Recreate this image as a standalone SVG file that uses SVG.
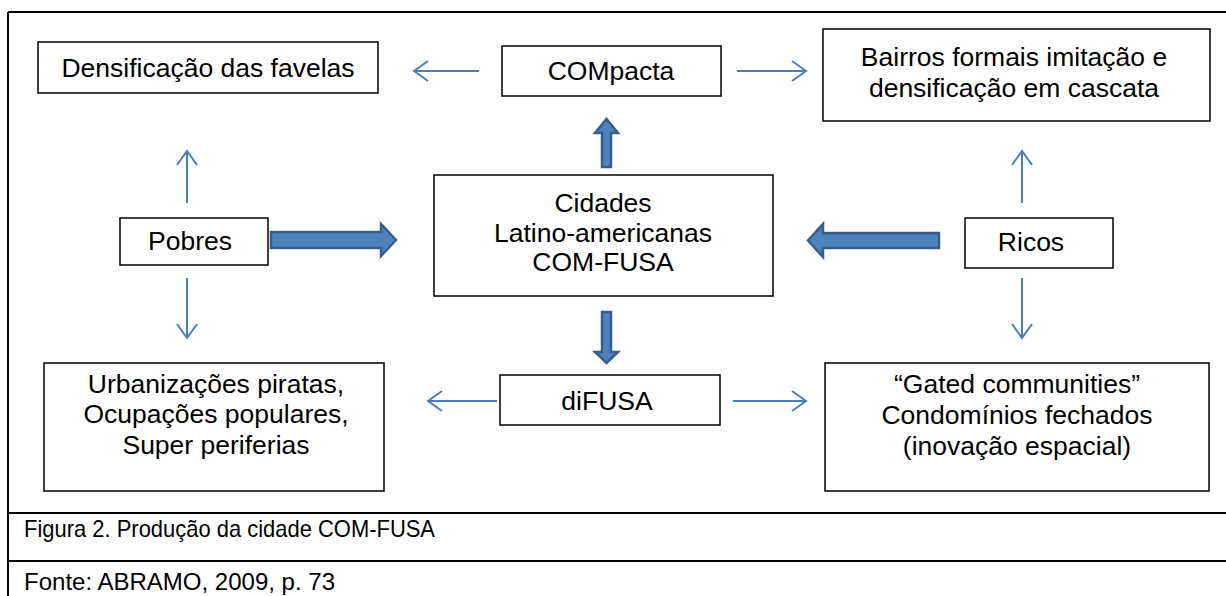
<svg xmlns="http://www.w3.org/2000/svg" width="1226" height="596" viewBox="0 0 1226 596">
<defs>
<marker id="ah" markerWidth="20" markerHeight="24" refX="15" refY="11" orient="auto" markerUnits="userSpaceOnUse">
<path d="M1,1 L15,11 L1,21" fill="none" stroke="#4a7ebb" stroke-width="2"/>
</marker>
<style>
.box{fill:#fff;stroke:#000;stroke-width:1.5}
.t{font-family:"Liberation Sans",Arial,sans-serif;font-size:26.5px;fill:#000;text-anchor:middle}
.cap{font-family:"Liberation Sans",Arial,sans-serif;font-size:24px;fill:#000}
.ln{stroke:#4a7ebb;stroke-width:2;fill:none;marker-end:url(#ah)}
.blk{fill:#4f81bd;stroke:#385d8a;stroke-width:2.5;stroke-linejoin:miter}
.frame{stroke:#000;stroke-width:2;fill:none}
</style>
</defs>
<rect width="1226" height="596" fill="#fff"/>
<g id="frame">
<path class="frame" d="M8,12 H1226 M8,12 V596 M8,513 H1226 M8,561 H1226"/>
<text class="cap" x="24" y="537" textLength="411" lengthAdjust="spacingAndGlyphs">Figura 2. Produção da cidade COM-FUSA</text>
<text class="cap" x="24" y="590" textLength="311" lengthAdjust="spacingAndGlyphs">Fonte: ABRAMO, 2009, p. 73</text>
</g>
<g id="connectors">
<line class="ln" x1="479" y1="71" x2="414" y2="71"/>
<line class="ln" x1="737" y1="71" x2="806" y2="71"/>
<line class="ln" x1="187" y1="203" x2="187" y2="151"/>
<line class="ln" x1="187" y1="278" x2="187" y2="338"/>
<line class="ln" x1="1022" y1="203" x2="1022" y2="151"/>
<line class="ln" x1="1022" y1="278" x2="1022" y2="338"/>
<line class="ln" x1="497" y1="401" x2="428" y2="401"/>
<line class="ln" x1="733" y1="401" x2="806" y2="401"/>
<path class="blk" d="M271,232 H381 V224 L396,240 L381,256 V248 H271 Z"/>
<path class="blk" d="M939,233 H823 V224 L808,240.5 L823,257 V248 H939 Z"/>
<path class="blk" d="M602,167 V133 H595 L606.5,119 L618,133 H611 V167 Z"/>
<path class="blk" d="M602,312 V352 H595 L606.5,363 L618,352 H611 V312 Z"/>
</g>
<g id="n-favelas">
<rect class="box" x="38" y="42" width="340" height="51"/>
<text class="t" x="208" y="77">Densificação das favelas</text>
</g>
<g id="n-compacta">
<rect class="box" x="502" y="46" width="219" height="50"/>
<text class="t" x="611" y="80">COMpacta</text>
</g>
<g id="n-bairros">
<rect class="box" x="823" y="29" width="387" height="92"/>
<text class="t" x="1014" y="66">Bairros formais imitação e</text>
<text class="t" x="1014" y="97">densificação em cascata</text>
</g>
<g id="n-pobres">
<rect class="box" x="120" y="218" width="148" height="47"/>
<text class="t" x="190" y="250">Pobres</text>
</g>
<g id="n-cidades">
<rect class="box" x="434" y="175" width="339" height="121"/>
<text class="t" x="603" y="212">Cidades</text>
<text class="t" x="603" y="242">Latino-americanas</text>
<text class="t" x="603" y="271">COM-FUSA</text>
</g>
<g id="n-ricos">
<rect class="box" x="965" y="218" width="148" height="50"/>
<text class="t" x="1031" y="251">Ricos</text>
</g>
<g id="n-urbanizacoes">
<rect class="box" x="44" y="363" width="340" height="128"/>
<text class="t" x="216" y="393">Urbanizações piratas,</text>
<text class="t" x="216" y="423">Ocupações populares,</text>
<text class="t" x="216" y="454">Super periferias</text>
</g>
<g id="n-difusa">
<rect class="box" x="500" y="375" width="220" height="50"/>
<text class="t" x="607" y="410">diFUSA</text>
</g>
<g id="n-gated">
<rect class="box" x="825" y="363" width="384" height="128"/>
<text class="t" x="1017" y="393">“Gated communities”</text>
<text class="t" x="1017" y="424">Condomínios fechados</text>
<text class="t" x="1017" y="455">(inovação espacial)</text>
</g>
</svg>
